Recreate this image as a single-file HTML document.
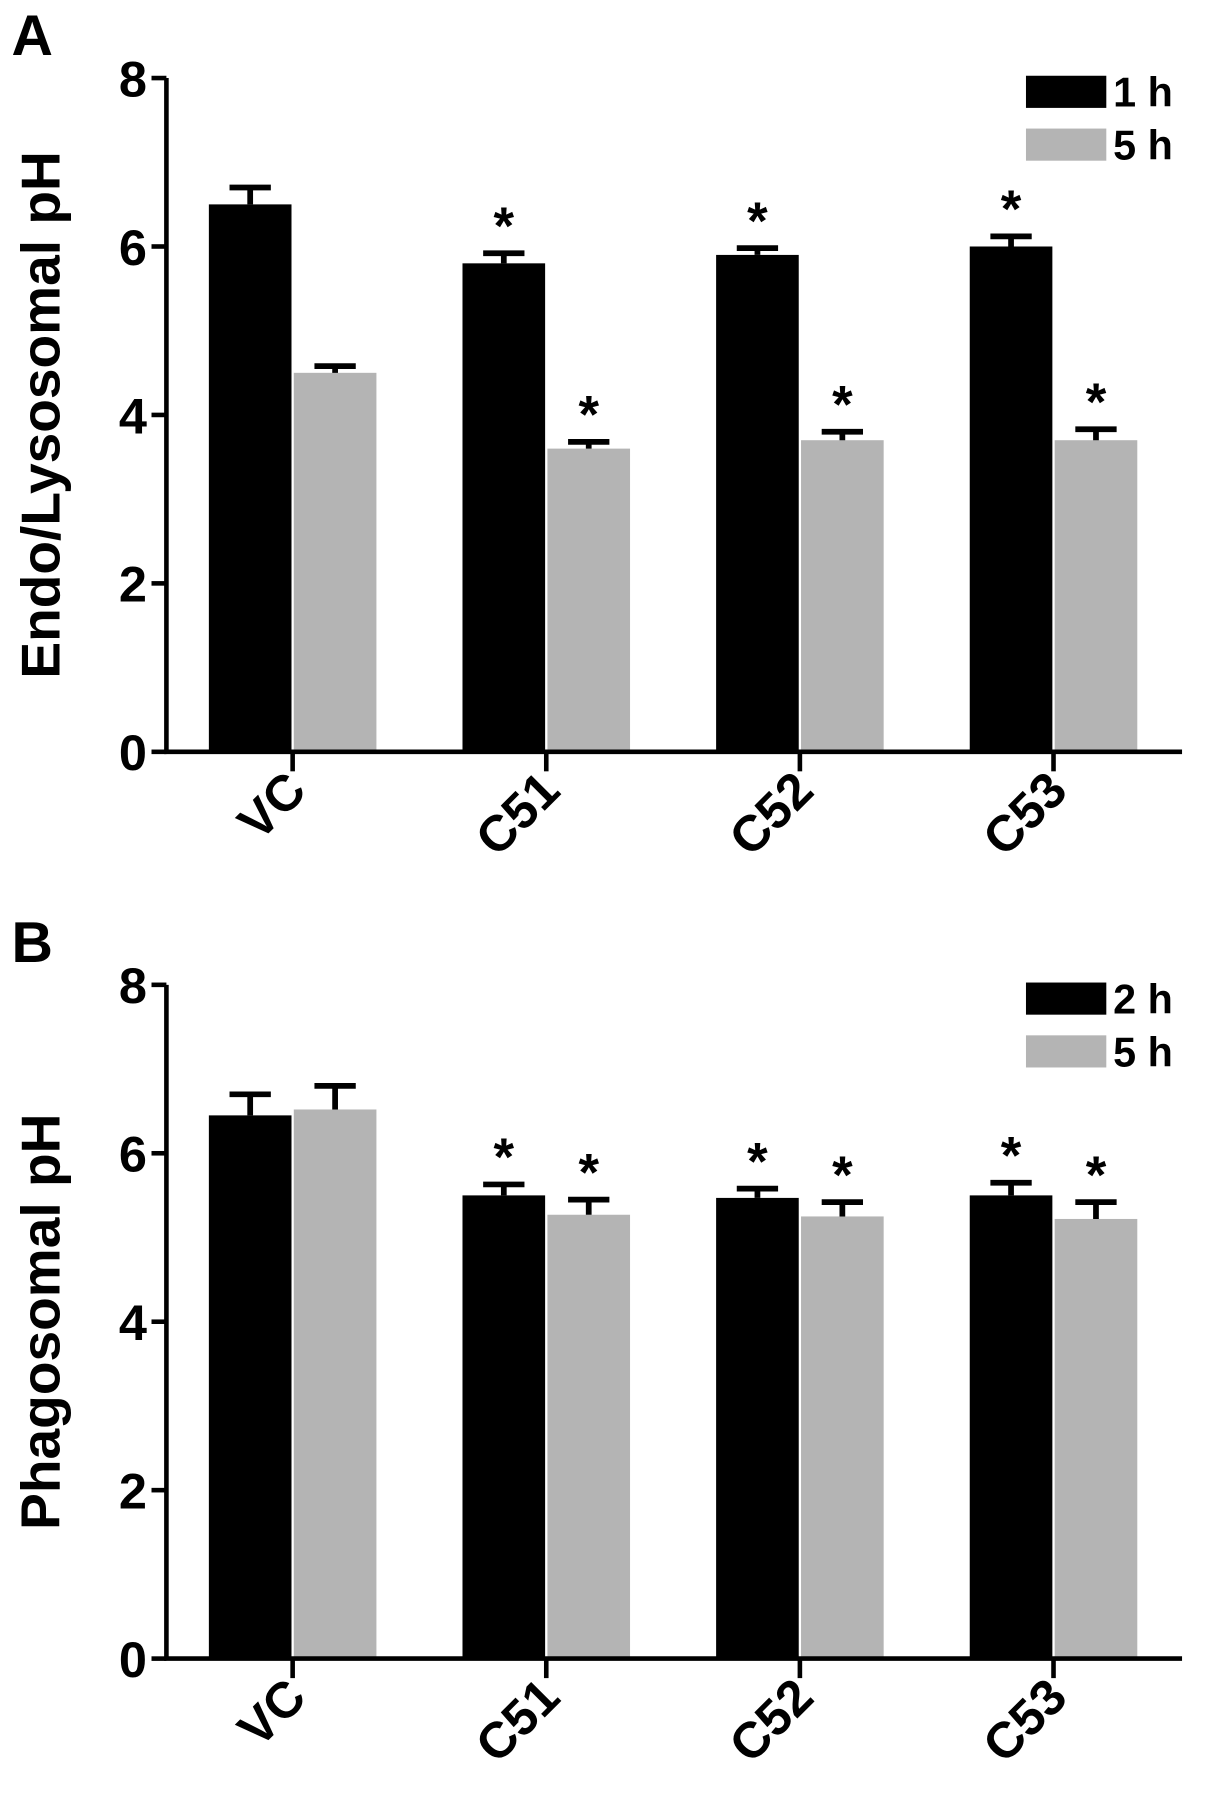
<!DOCTYPE html>
<html><head><meta charset="utf-8"><style>
html,body{margin:0;padding:0;background:#fff;}
svg{display:block;font-family:"Liberation Sans",Arial,sans-serif;font-weight:bold;}
</style></head><body>
<svg id="fig" width="1205" height="1817" viewBox="0 0 1050 1583" preserveAspectRatio="none" xmlns="http://www.w3.org/2000/svg"></svg>
<script>
const categories = ["VC","C51","C52","C53"];
const yTicks = [0,2,4,6,8];
const aSeries1 = [6.5,5.8,5.9,6.0];
const aErr1 = [0.2,0.12,0.08,0.12];
const aSeries2 = [4.5,3.6,3.7,3.7];
const aErr2 = [0.08,0.08,0.1,0.13];
const aStars1 = [false,true,true,true];
const aStars2 = [false,true,true,true];
const bSeries1 = [6.45,5.5,5.47,5.5];
const bErr1 = [0.25,0.13,0.11,0.15];
const bSeries2 = [6.52,5.27,5.25,5.22];
const bErr2 = [0.28,0.18,0.17,0.2];
const bStars1 = [false,true,true,true];
const bStars2 = [false,true,true,true];
const NS="http://www.w3.org/2000/svg";
const svg=document.getElementById('fig');
function mk(tag,attrs,parent){const e=document.createElementNS(NS,tag);for(const k in attrs)e.setAttribute(k,attrs[k]);(parent||svg).appendChild(e);return e;}
function panel(p){
  const g=mk('g',{});
  
  
  const y=v=>p.y0-(v/8)*(p.y0-p.y8);
  const x0=145, gx=i=>255+i*221;
  const lt=mk('text',{x:10,y:p.y8-20,'font-size':50},g);lt.textContent=p.letter;
  
  const yt=mk('text',{transform:`translate(52,${(p.y0+p.y8)/2}) rotate(-90)`,'text-anchor':'middle','font-size':48},g);
  yt.textContent=p.ytitle;
  
  yTicks.forEach(t=>{
    const l=mk('line',{x1:132,x2:x0,y1:y(t),y2:y(t),stroke:'#000','stroke-width':4},g);
    
    const tx=mk('text',{x:128,y:y(t)+16,'text-anchor':'end','font-size':44},g);tx.textContent=t;
    
  });
  const s=[[p.s1,p.e1,p.st1,'#000',-1],[p.s2,p.e2,p.st2,'#b4b4b4',1]];
  categories.forEach((c,i)=>{
    s.forEach(([vals,errs,stars,col,side],k)=>{
      const bx=side<0?gx(i)-73:gx(i)+1, bw=72, cx=bx+bw/2;
      const top=y(vals[i]), et=y(vals[i]+errs[i]);
      const r=mk('rect',{x:bx,y:top,width:bw,height:p.y0-top,fill:col},g);
      
      
      const el=mk('path',{d:`M${cx} ${top} V${et} M${cx-18} ${et} H${cx+18}`,stroke:'#000','stroke-width':5,fill:'none'},g);
      
      if(stars[i]){const st=mk('text',{x:cx,y:et-8,'text-anchor':'middle','font-size':46},g);st.textContent='*';
        }
    });
    const tk=mk('line',{x1:gx(i),x2:gx(i),y1:p.y0,y2:p.y0+17,stroke:'#000','stroke-width':4},g);
    
    const xl=mk('text',{transform:`translate(${gx(i)+14},${p.y0+36}) rotate(-45)`,'text-anchor':'end','font-size':44},g);
    xl.textContent=c;
    
  });
  const ax=mk('path',{d:`M${x0} ${p.y8} V${p.y0} H1030`,stroke:'#000','stroke-width':4,fill:'none'},g);
  
  ['#000','#b4b4b4'].forEach((col,k)=>{
    const ly=p.y8-2+k*46;
    const r=mk('rect',{x:894,y:ly,width:70,height:28,fill:col},g);
    
    const t=mk('text',{x:970,y:ly+27,'font-size':36},g);t.textContent=p.leg[k];
    
  });
}
panel({name:'panel-a',letter:'A',ytitle:'Endo/Lysosomal pH',y8:68,y0:655,s1:aSeries1,e1:aErr1,s2:aSeries2,e2:aErr2,st1:aStars1,st2:aStars2,leg:['1 h','5 h']});
panel({name:'panel-b',letter:'B',ytitle:'Phagosomal pH',y8:858,y0:1445,s1:bSeries1,e1:bErr1,s2:bSeries2,e2:bErr2,st1:bStars1,st2:bStars2,leg:['2 h','5 h']});
</script>
</body></html>
